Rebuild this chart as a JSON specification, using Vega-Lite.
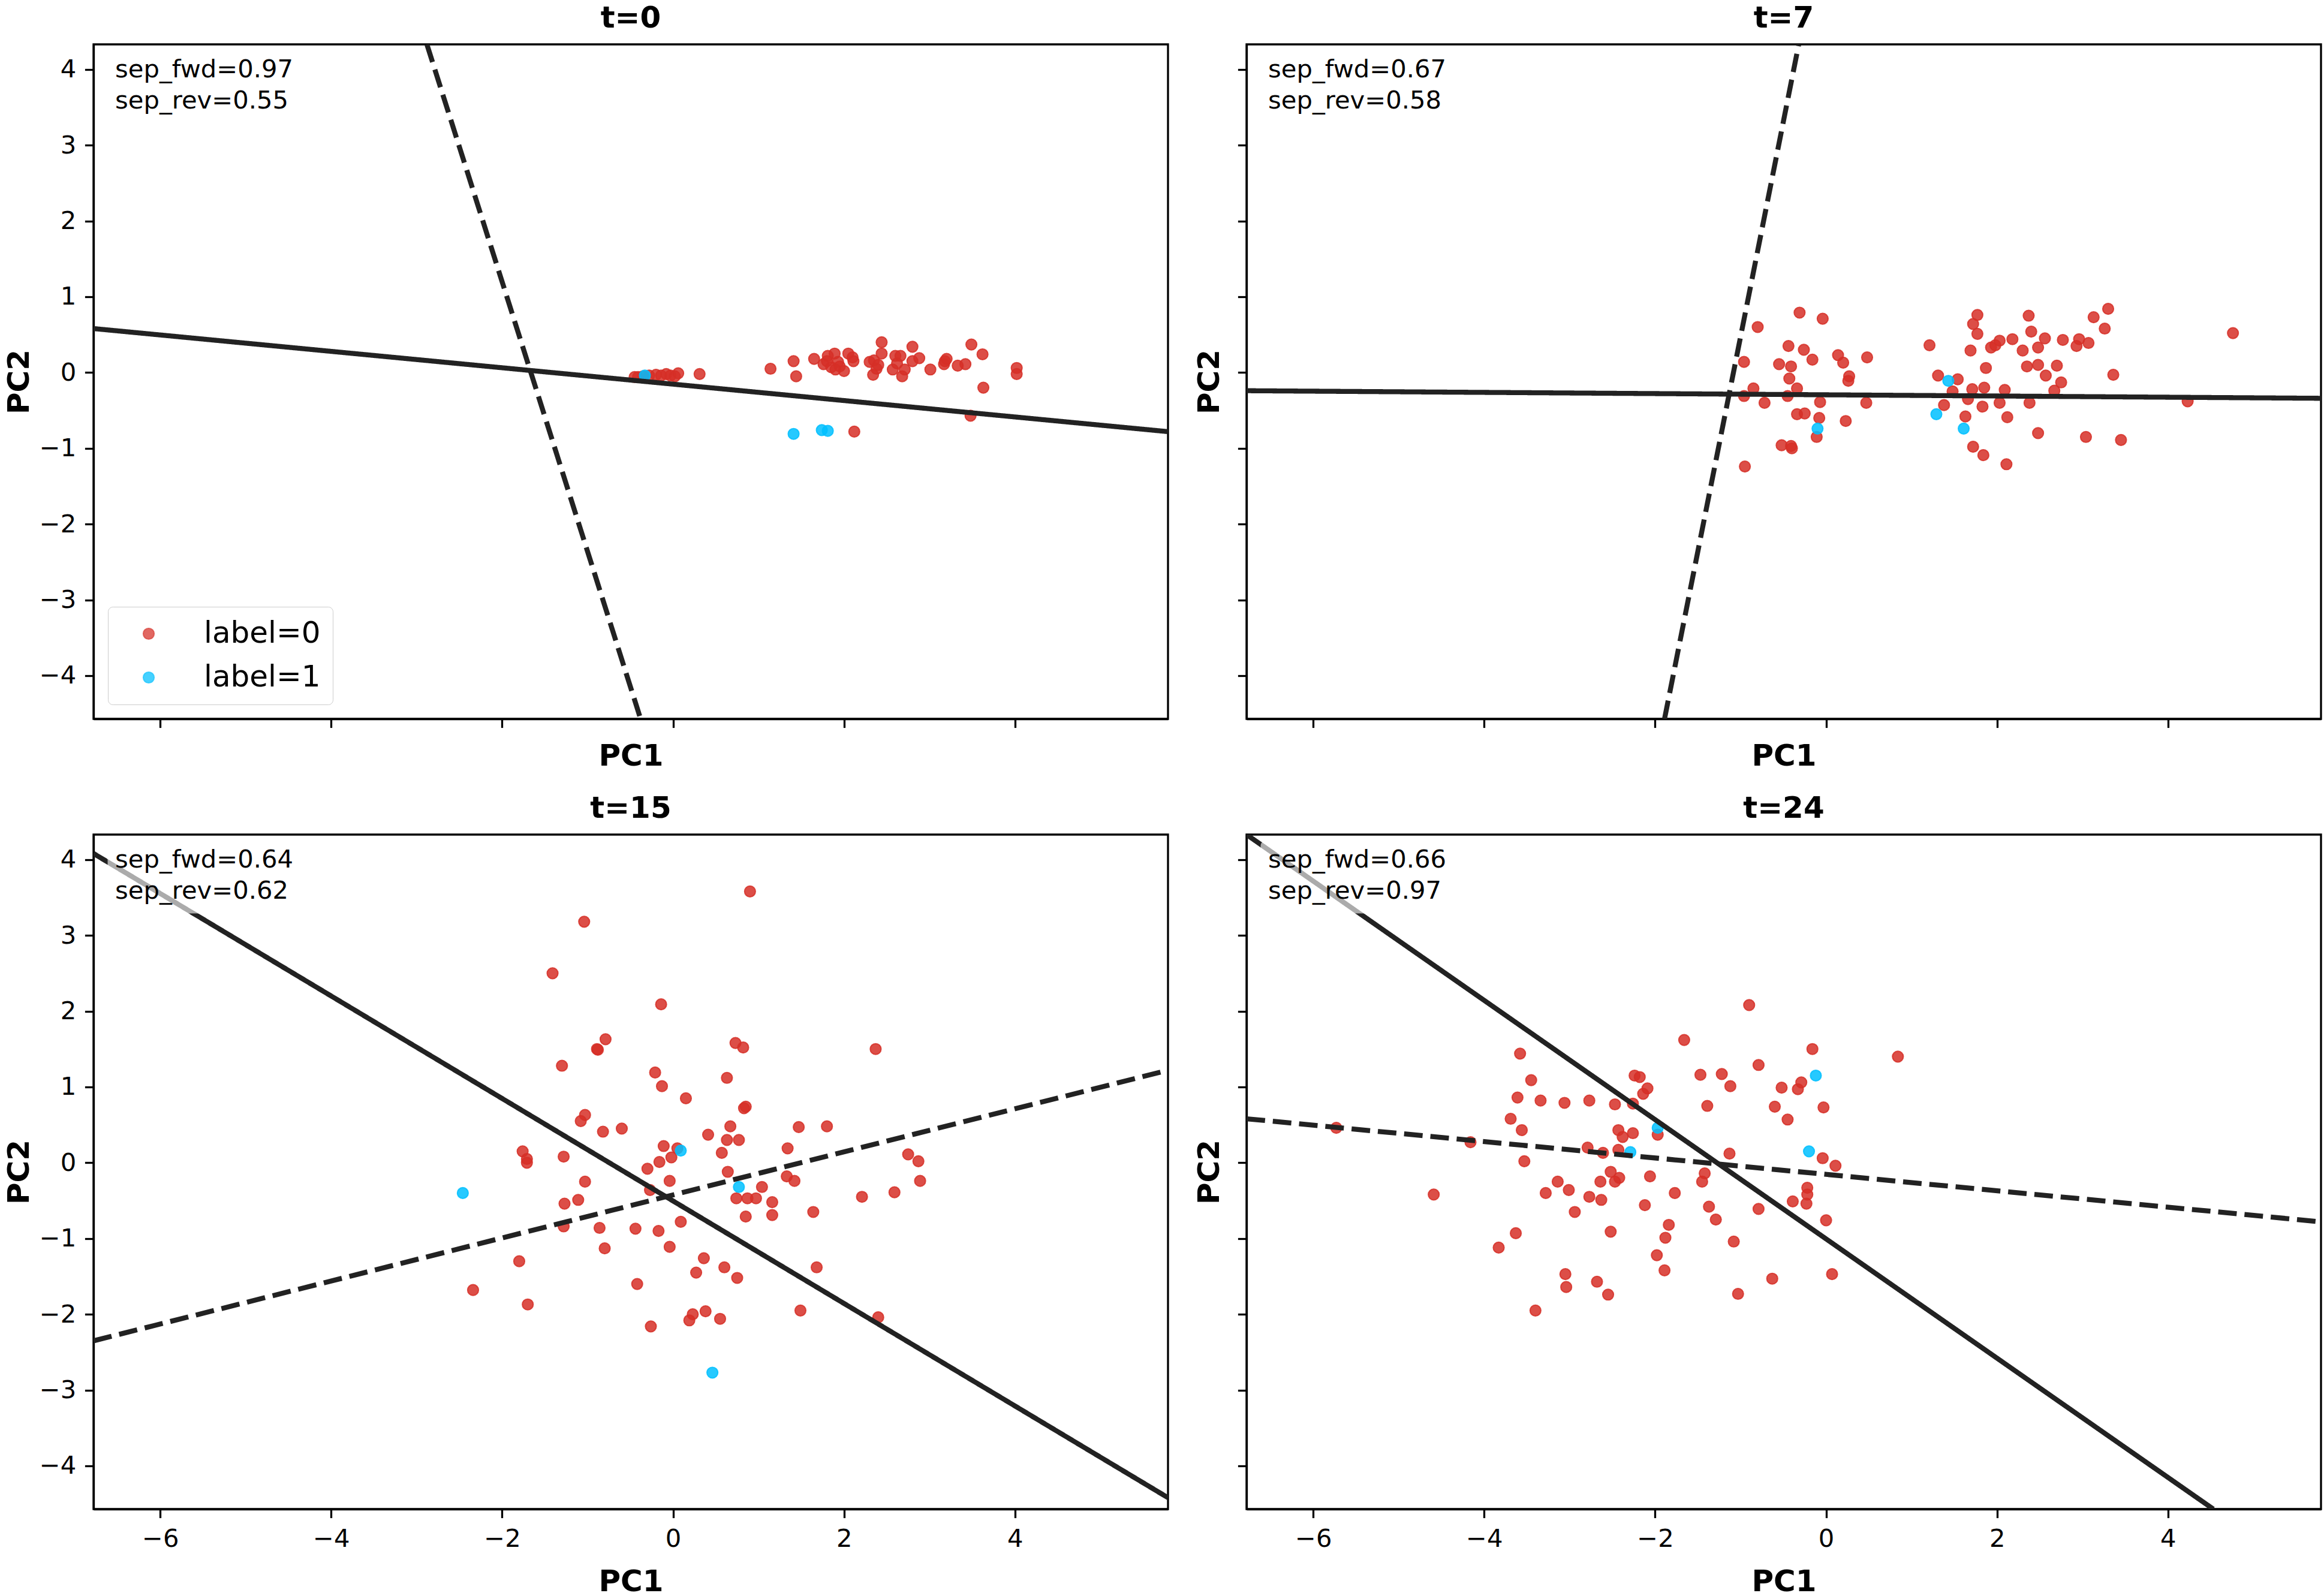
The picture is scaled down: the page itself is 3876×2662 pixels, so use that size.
{
  "$schema": "https://vega.github.io/schema/vega-lite/v6.json",
  "background": "white",
  "padding": {"left": 5, "top": 4, "right": 2, "bottom": 2},
  "bounds": "flush",
  "columns": 2,
  "spacing": {"row": 193, "column": 131},
  "resolve": {"scale": {"color": "independent", "stroke": "independent"}, "legend": {"color": "independent", "stroke": "independent"}},
  "config": {
    "font": "DejaVu Sans",
    "view": {"stroke": "black", "strokeWidth": 3.3},
    "axis": {
      "grid": false,
      "domainColor": "black", "domainWidth": 3.3,
      "tickColor": "black", "tickWidth": 3.3, "tickSize": 14.6,
      "labelFont": "DejaVu Sans", "labelFontSize": 41.7, "labelColor": "black", "labelPadding": 14.6,
      "titleFont": "DejaVu Sans", "titleFontSize": 50, "titleFontWeight": "bold", "titleColor": "black",
      "format": "d", "labelFlush": false, "labelOverlap": false
    },
    "circle": {"size": 330, "fillOpacity": 0.85, "strokeOpacity": 0.85, "strokeWidth": 2},
    "title": {"font": "DejaVu Sans", "fontSize": 50, "fontWeight": "bold", "color": "black", "offset": 18, "baseline": "alphabetic", "frame": "group", "anchor": "middle"}
  },
  "datasets": {
    "pts_t0": [
      {"label":0,"x":-0.45,"y":-0.06},{"label":0,"x":-0.41,"y":-0.06},{"label":0,"x":-0.35,"y":-0.05},{"label":0,"x":-0.28,"y":-0.04},{"label":0,"x":-0.20,"y":-0.03},{"label":0,"x":-0.14,"y":-0.04},{"label":0,"x":-0.08,"y":-0.02},{"label":0,"x":-0.03,"y":-0.04},{"label":0,"x":0.02,"y":-0.05},{"label":0,"x":0.06,"y":-0.01},{"label":0,"x":0.31,"y":-0.02},
      {"label":0,"x":1.14,"y":0.05},{"label":0,"x":1.41,"y":0.15},{"label":0,"x":1.44,"y":-0.05},{"label":0,"x":1.65,"y":0.18},{"label":0,"x":1.76,"y":0.11},{"label":0,"x":1.80,"y":0.15},{"label":0,"x":1.81,"y":0.22},{"label":0,"x":1.89,"y":0.25},{"label":0,"x":1.85,"y":0.07},{"label":0,"x":1.93,"y":0.14},{"label":0,"x":1.90,"y":0.04},{"label":0,"x":1.95,"y":0.08},{"label":0,"x":2.00,"y":0.02},{"label":0,"x":2.05,"y":0.25},{"label":0,"x":2.10,"y":0.20},{"label":0,"x":2.11,"y":0.15},{"label":0,"x":2.30,"y":0.14},{"label":0,"x":2.35,"y":0.16},{"label":0,"x":2.38,"y":0.05},{"label":0,"x":2.40,"y":0.10},{"label":0,"x":2.34,"y":-0.03},{"label":0,"x":2.44,"y":0.40},{"label":0,"x":2.44,"y":0.25},{"label":0,"x":2.57,"y":0.04},{"label":0,"x":2.60,"y":0.22},{"label":0,"x":2.62,"y":0.12},{"label":0,"x":2.66,"y":0.22},{"label":0,"x":2.68,"y":-0.05},{"label":0,"x":2.71,"y":0.04},{"label":0,"x":2.80,"y":0.34},{"label":0,"x":2.80,"y":0.15},{"label":0,"x":2.88,"y":0.19},{"label":0,"x":3.01,"y":0.04},{"label":0,"x":3.17,"y":0.11},{"label":0,"x":3.18,"y":0.15},{"label":0,"x":3.20,"y":0.18},{"label":0,"x":3.33,"y":0.09},{"label":0,"x":3.42,"y":0.11},{"label":0,"x":3.49,"y":0.37},{"label":0,"x":3.62,"y":0.24},{"label":0,"x":3.63,"y":-0.20},{"label":0,"x":3.48,"y":-0.57},{"label":0,"x":4.02,"y":0.06},{"label":0,"x":4.02,"y":-0.02},{"label":0,"x":2.12,"y":-0.78},
      {"label":1,"x":-0.33,"y":-0.04},{"label":1,"x":1.41,"y":-0.81},{"label":1,"x":1.74,"y":-0.76},{"label":1,"x":1.81,"y":-0.77}
    ],
    "pts_t7": [
      {"label":0,"x":-0.31,"y":0.79},{"label":0,"x":-0.04,"y":0.71},{"label":0,"x":-0.80,"y":0.60},{"label":0,"x":-0.44,"y":0.35},{"label":0,"x":-0.26,"y":0.30},{"label":0,"x":-0.96,"y":0.14},{"label":0,"x":-0.55,"y":0.11},{"label":0,"x":-0.41,"y":0.08},{"label":0,"x":-0.16,"y":0.17},{"label":0,"x":0.14,"y":0.23},{"label":0,"x":0.20,"y":0.13},{"label":0,"x":0.48,"y":0.20},{"label":0,"x":0.27,"y":-0.05},{"label":0,"x":0.26,"y":-0.11},{"label":0,"x":-0.43,"y":-0.08},{"label":0,"x":-0.85,"y":-0.21},{"label":0,"x":-0.34,"y":-0.21},{"label":0,"x":-0.96,"y":-0.31},{"label":0,"x":-0.45,"y":-0.31},{"label":0,"x":-0.72,"y":-0.40},{"label":0,"x":-0.07,"y":-0.39},{"label":0,"x":0.47,"y":-0.40},{"label":0,"x":-0.34,"y":-0.55},{"label":0,"x":-0.25,"y":-0.54},{"label":0,"x":-0.08,"y":-0.60},{"label":0,"x":0.23,"y":-0.64},{"label":0,"x":-0.11,"y":-0.85},{"label":0,"x":-0.52,"y":-0.96},{"label":0,"x":-0.40,"y":-1.00},{"label":0,"x":-0.41,"y":-0.97},{"label":0,"x":-0.95,"y":-1.24},
      {"label":0,"x":1.21,"y":0.36},{"label":0,"x":1.77,"y":0.76},{"label":0,"x":1.72,"y":0.64},{"label":0,"x":1.77,"y":0.51},{"label":0,"x":1.69,"y":0.29},{"label":0,"x":1.93,"y":0.33},{"label":0,"x":1.98,"y":0.36},{"label":0,"x":2.03,"y":0.42},{"label":0,"x":2.18,"y":0.44},{"label":0,"x":2.37,"y":0.75},{"label":0,"x":2.40,"y":0.54},{"label":0,"x":2.30,"y":0.29},{"label":0,"x":2.48,"y":0.33},{"label":0,"x":2.56,"y":0.45},{"label":0,"x":2.77,"y":0.43},{"label":0,"x":2.96,"y":0.44},{"label":0,"x":2.93,"y":0.35},{"label":0,"x":3.07,"y":0.39},{"label":0,"x":3.13,"y":0.73},{"label":0,"x":3.30,"y":0.84},{"label":0,"x":3.26,"y":0.58},{"label":0,"x":4.76,"y":0.52},{"label":0,"x":1.87,"y":0.06},{"label":0,"x":2.35,"y":0.08},{"label":0,"x":2.48,"y":0.10},{"label":0,"x":2.70,"y":0.09},{"label":0,"x":2.57,"y":-0.04},{"label":0,"x":2.75,"y":-0.13},{"label":0,"x":2.67,"y":-0.24},{"label":0,"x":3.36,"y":-0.03},{"label":0,"x":1.31,"y":-0.04},{"label":0,"x":1.54,"y":-0.09},{"label":0,"x":1.48,"y":-0.25},{"label":0,"x":1.71,"y":-0.22},{"label":0,"x":1.85,"y":-0.20},{"label":0,"x":2.09,"y":-0.23},{"label":0,"x":1.66,"y":-0.35},{"label":0,"x":1.38,"y":-0.43},{"label":0,"x":1.83,"y":-0.45},{"label":0,"x":2.03,"y":-0.40},{"label":0,"x":2.38,"y":-0.40},{"label":0,"x":1.63,"y":-0.58},{"label":0,"x":2.12,"y":-0.59},{"label":0,"x":2.48,"y":-0.80},{"label":0,"x":3.04,"y":-0.85},{"label":0,"x":3.45,"y":-0.89},{"label":0,"x":1.72,"y":-0.98},{"label":0,"x":1.84,"y":-1.09},{"label":0,"x":2.11,"y":-1.21},{"label":0,"x":4.23,"y":-0.38},
      {"label":1,"x":-0.10,"y":-0.74},{"label":1,"x":1.43,"y":-0.11},{"label":1,"x":1.29,"y":-0.55},{"label":1,"x":1.61,"y":-0.74}
    ],
    "pts_t15": [
      {"label":0,"x":0.90,"y":3.58},{"label":0,"x":-1.04,"y":3.18},{"label":0,"x":-1.41,"y":2.50},{"label":0,"x":-0.14,"y":2.09},{"label":0,"x":-0.79,"y":1.63},{"label":0,"x":-0.88,"y":1.49},{"label":0,"x":-0.89,"y":1.50},{"label":0,"x":-1.30,"y":1.28},{"label":0,"x":0.73,"y":1.58},{"label":0,"x":0.82,"y":1.52},{"label":0,"x":2.37,"y":1.50},{"label":0,"x":-0.21,"y":1.19},{"label":0,"x":0.63,"y":1.12},{"label":0,"x":-0.13,"y":1.01},{"label":0,"x":0.15,"y":0.85},{"label":0,"x":0.85,"y":0.74},{"label":0,"x":0.83,"y":0.72},{"label":0,"x":-1.03,"y":0.63},{"label":0,"x":-1.08,"y":0.55},{"label":0,"x":-0.82,"y":0.41},{"label":0,"x":-0.60,"y":0.45},{"label":0,"x":0.41,"y":0.37},{"label":0,"x":0.67,"y":0.48},{"label":0,"x":1.47,"y":0.47},{"label":0,"x":1.80,"y":0.48},
      {"label":0,"x":0.63,"y":0.30},{"label":0,"x":0.77,"y":0.30},{"label":0,"x":-1.76,"y":0.15},{"label":0,"x":-1.71,"y":0.05},{"label":0,"x":-1.71,"y":0.00},{"label":0,"x":-1.28,"y":0.08},{"label":0,"x":-0.11,"y":0.22},{"label":0,"x":0.05,"y":0.19},{"label":0,"x":-0.02,"y":0.07},{"label":0,"x":-0.16,"y":0.01},{"label":0,"x":-0.30,"y":-0.08},{"label":0,"x":0.57,"y":0.13},{"label":0,"x":1.34,"y":0.19},{"label":0,"x":2.75,"y":0.11},{"label":0,"x":2.87,"y":0.02},{"label":0,"x":2.89,"y":-0.24},{"label":0,"x":2.59,"y":-0.39},{"label":0,"x":2.21,"y":-0.45},{"label":0,"x":1.64,"y":-0.65},{"label":0,"x":1.33,"y":-0.18},{"label":0,"x":1.42,"y":-0.24},{"label":0,"x":0.64,"y":-0.12},{"label":0,"x":1.04,"y":-0.32},{"label":0,"x":0.74,"y":-0.47},{"label":0,"x":0.87,"y":-0.47},{"label":0,"x":0.97,"y":-0.47},{"label":0,"x":1.16,"y":-0.52},{"label":0,"x":1.16,"y":-0.69},{"label":0,"x":0.85,"y":-0.71},{"label":0,"x":-0.04,"y":-0.24},{"label":0,"x":-0.27,"y":-0.36},{"label":0,"x":-1.03,"y":-0.25},{"label":0,"x":-1.11,"y":-0.49},{"label":0,"x":-1.27,"y":-0.54},{"label":0,"x":-1.28,"y":-0.84},{"label":0,"x":-0.86,"y":-0.86},{"label":0,"x":-0.44,"y":-0.87},{"label":0,"x":-0.17,"y":-0.90},{"label":0,"x":0.09,"y":-0.78},{"label":0,"x":-0.80,"y":-1.13},{"label":0,"x":-0.04,"y":-1.11},{"label":0,"x":-1.80,"y":-1.30},{"label":0,"x":-2.34,"y":-1.68},{"label":0,"x":-1.70,"y":-1.87},{"label":0,"x":-0.42,"y":-1.60},{"label":0,"x":0.36,"y":-1.26},{"label":0,"x":0.27,"y":-1.45},{"label":0,"x":0.60,"y":-1.38},{"label":0,"x":0.75,"y":-1.52},{"label":0,"x":1.68,"y":-1.38},{"label":0,"x":-0.26,"y":-2.16},{"label":0,"x":0.23,"y":-2.00},{"label":0,"x":0.19,"y":-2.08},{"label":0,"x":0.38,"y":-1.96},{"label":0,"x":0.55,"y":-2.06},{"label":0,"x":1.49,"y":-1.95},{"label":0,"x":2.40,"y":-2.04},
      {"label":1,"x":0.09,"y":0.16},{"label":1,"x":0.77,"y":-0.32},{"label":1,"x":-2.46,"y":-0.40},{"label":1,"x":0.46,"y":-2.77}
    ],
    "pts_t24": [
      {"label":0,"x":-0.90,"y":2.08},{"label":0,"x":-1.66,"y":1.62},{"label":0,"x":-0.16,"y":1.50},{"label":0,"x":0.84,"y":1.40},{"label":0,"x":-3.58,"y":1.44},{"label":0,"x":-3.45,"y":1.09},{"label":0,"x":-0.79,"y":1.29},{"label":0,"x":-1.47,"y":1.16},{"label":0,"x":-1.22,"y":1.17},{"label":0,"x":-2.24,"y":1.15},{"label":0,"x":-2.18,"y":1.13},{"label":0,"x":-1.12,"y":1.01},{"label":0,"x":-0.29,"y":1.06},{"label":0,"x":-0.33,"y":0.97},{"label":0,"x":-0.52,"y":0.99},{"label":0,"x":-2.09,"y":0.98},{"label":0,"x":-2.14,"y":0.91},{"label":0,"x":-3.61,"y":0.86},{"label":0,"x":-3.34,"y":0.82},{"label":0,"x":-3.06,"y":0.79},{"label":0,"x":-2.77,"y":0.82},{"label":0,"x":-2.47,"y":0.77},{"label":0,"x":-2.26,"y":0.78},{"label":0,"x":-1.39,"y":0.75},{"label":0,"x":-0.60,"y":0.74},{"label":0,"x":-0.03,"y":0.73},{"label":0,"x":-0.45,"y":0.57},{"label":0,"x":-3.69,"y":0.58},{"label":0,"x":-3.56,"y":0.43},{"label":0,"x":-2.43,"y":0.43},{"label":0,"x":-2.26,"y":0.39},{"label":0,"x":-2.38,"y":0.34},{"label":0,"x":-1.97,"y":0.37},{"label":0,"x":-5.73,"y":0.46},{"label":0,"x":-4.16,"y":0.27},{"label":0,"x":-2.79,"y":0.20},{"label":0,"x":-2.61,"y":0.13},{"label":0,"x":-2.43,"y":0.17},{"label":0,"x":-1.13,"y":0.12},{"label":0,"x":-0.04,"y":0.06},{"label":0,"x":0.11,"y":-0.04},{"label":0,"x":-3.53,"y":0.02},{"label":0,"x":-1.42,"y":-0.14},{"label":0,"x":-1.45,"y":-0.25},{"label":0,"x":-2.52,"y":-0.12},{"label":0,"x":-2.42,"y":-0.20},{"label":0,"x":-2.47,"y":-0.25},{"label":0,"x":-2.64,"y":-0.25},{"label":0,"x":-2.06,"y":-0.18},{"label":0,"x":-3.14,"y":-0.25},{"label":0,"x":-3.28,"y":-0.40},{"label":0,"x":-3.01,"y":-0.36},{"label":0,"x":-2.77,"y":-0.45},{"label":0,"x":-2.63,"y":-0.49},{"label":0,"x":-1.77,"y":-0.40},{"label":0,"x":-4.59,"y":-0.42},{"label":0,"x":-2.12,"y":-0.56},{"label":0,"x":-1.37,"y":-0.58},{"label":0,"x":-0.79,"y":-0.61},{"label":0,"x":-0.39,"y":-0.51},{"label":0,"x":-0.22,"y":-0.33},{"label":0,"x":-0.22,"y":-0.42},{"label":0,"x":-0.23,"y":-0.54},{"label":0,"x":-2.94,"y":-0.65},{"label":0,"x":-1.29,"y":-0.75},{"label":0,"x":0.00,"y":-0.76},{"label":0,"x":-1.84,"y":-0.82},{"label":0,"x":-2.52,"y":-0.91},{"label":0,"x":-1.88,"y":-0.99},{"label":0,"x":-3.63,"y":-0.93},{"label":0,"x":-3.83,"y":-1.12},{"label":0,"x":-1.08,"y":-1.04},{"label":0,"x":-1.98,"y":-1.22},{"label":0,"x":-1.89,"y":-1.42},{"label":0,"x":-3.05,"y":-1.47},{"label":0,"x":-3.04,"y":-1.64},{"label":0,"x":-2.68,"y":-1.57},{"label":0,"x":-2.55,"y":-1.74},{"label":0,"x":-3.40,"y":-1.95},{"label":0,"x":-0.63,"y":-1.53},{"label":0,"x":-1.03,"y":-1.73},{"label":0,"x":0.07,"y":-1.47},
      {"label":1,"x":-0.12,"y":1.15},{"label":1,"x":-1.97,"y":0.46},{"label":1,"x":-2.29,"y":0.14},{"label":1,"x":-0.20,"y":0.15}
    ],
    "lines": [
      {"panel":"t=0","kind":"solid","x":-6.78,"y":0.58},{"panel":"t=0","kind":"solid","x":5.79,"y":-0.78},
      {"panel":"t=0","kind":"dashed","x":-2.88,"y":4.33},{"panel":"t=0","kind":"dashed","x":-0.38,"y":-4.57},
      {"panel":"t=7","kind":"solid","x":-6.78,"y":-0.24},{"panel":"t=7","kind":"solid","x":5.79,"y":-0.34},
      {"panel":"t=7","kind":"dashed","x":-0.32,"y":4.33},{"panel":"t=7","kind":"dashed","x":-1.89,"y":-4.57},
      {"panel":"t=15","kind":"solid","x":-6.78,"y":4.08},{"panel":"t=15","kind":"solid","x":5.79,"y":-4.42},
      {"panel":"t=15","kind":"dashed","x":-6.78,"y":-2.35},{"panel":"t=15","kind":"dashed","x":5.79,"y":1.22},
      {"panel":"t=24","kind":"solid","x":-6.78,"y":4.33},{"panel":"t=24","kind":"solid","x":4.53,"y":-4.57},
      {"panel":"t=24","kind":"dashed","x":-6.78,"y":0.58},{"panel":"t=24","kind":"dashed","x":5.79,"y":-0.78}
    ],
    "notes": [
      {"panel":"t=0","note":["sep_fwd=0.97","sep_rev=0.55"]},
      {"panel":"t=7","note":["sep_fwd=0.67","sep_rev=0.58"]},
      {"panel":"t=15","note":["sep_fwd=0.64","sep_rev=0.62"]},
      {"panel":"t=24","note":["sep_fwd=0.66","sep_rev=0.97"]}
    ]
  },
  "concat": [
    {
      "width": 1792, "height": 1125,
      "title": "t=0",
      "layer": [
        {"data": {"name": "pts_t0"},
         "mark": {"type": "circle"},
         "encoding": {
           "x": {"field": "x", "type": "quantitative", "scale": {"domain": [-6.78, 5.79], "nice": false, "zero": false}, "axis": {"title": "PC1", "values": [-6,-4,-2,0,2,4], "labels": false, "titlePadding": 21}},
           "y": {"field": "y", "type": "quantitative", "scale": {"domain": [-4.57, 4.33], "nice": false, "zero": false}, "axis": {"title": "PC2", "values": [-4,-3,-2,-1,0,1,2,3,4], "titlePadding": 8}},
           "color": {"field": "label", "type": "nominal", "scale": {"domain": [0, 1], "range": ["#d62f27", "#00bfff"]},
             "legend": {"orient": "bottom-left", "offset": 24, "title": null, "fillColor": "white", "strokeColor": "#cccccc", "cornerRadius": 8, "padding": 20, "symbolType": "circle", "symbolSize": 330, "symbolOpacity": 0.85, "symbolStrokeWidth": 0, "symbolOffset": 23, "labelOffset": 67, "labelFontSize": 50, "labelFont": "DejaVu Sans", "labelColor": "black", "labelLimit": 600, "rowPadding": 23, "labelExpr": "'label=' + datum.label"}},
           "stroke": {"field": "label", "type": "nominal", "scale": {"domain": [0, 1], "range": ["#d62f27", "#00bfff"]}, "legend": null}
         }},
        {"data": {"name": "lines"}, "transform": [{"filter": "datum.panel === 't=0'"}],
         "mark": {"type": "line", "clip": true, "color": "#222222", "strokeWidth": 8.3},
         "encoding": {
           "x": {"field": "x", "type": "quantitative", "scale": {"domain": [-6.78, 5.79], "nice": false, "zero": false}, "axis": {"title": "PC1", "values": [-6,-4,-2,0,2,4], "labels": false, "titlePadding": 21}},
           "y": {"field": "y", "type": "quantitative", "scale": {"domain": [-4.57, 4.33], "nice": false, "zero": false}, "axis": {"title": "PC2", "values": [-4,-3,-2,-1,0,1,2,3,4], "titlePadding": 8}},
           "strokeDash": {"field": "kind", "type": "nominal", "scale": {"domain": ["solid", "dashed"], "range": [[1, 0], [31, 13]]}, "legend": null}
         }},
        {"data": {"name": "notes"}, "transform": [{"filter": "datum.panel === 't=0'"}],
         "mark": {"type": "rect", "color": "white", "opacity": 0.62, "cornerRadius": 8},
         "encoding": {
           "x": {"datum": -6.615, "type": "quantitative"}, "x2": {"datum": -4.187},
           "y": {"datum": 4.247, "type": "quantitative"}, "y2": {"datum": 3.29}
         }},
        {"data": {"name": "notes"}, "transform": [{"filter": "datum.panel === 't=0'"}],
         "mark": {"type": "text", "align": "left", "baseline": "top", "font": "DejaVu Sans", "fontSize": 41.7, "lineHeight": 52, "color": "black"},
         "encoding": {
           "x": {"datum": -6.527, "type": "quantitative"},
           "y": {"datum": 4.155, "type": "quantitative"},
           "text": {"field": "note", "type": "nominal"}
         }}
      ]
    },
    {
      "width": 1792, "height": 1125,
      "title": "t=7",
      "layer": [
        {"data": {"name": "pts_t7"},
         "mark": {"type": "circle"},
         "encoding": {
           "x": {"field": "x", "type": "quantitative", "scale": {"domain": [-6.78, 5.79], "nice": false, "zero": false}, "axis": {"title": "PC1", "values": [-6,-4,-2,0,2,4], "labels": false, "titlePadding": 21}},
           "y": {"field": "y", "type": "quantitative", "scale": {"domain": [-4.57, 4.33], "nice": false, "zero": false}, "axis": {"title": "PC2", "values": [-4,-3,-2,-1,0,1,2,3,4], "labels": false, "titlePadding": 20}},
           "color": {"field": "label", "type": "nominal", "scale": {"domain": [0, 1], "range": ["#d62f27", "#00bfff"]}, "legend": null},
           "stroke": {"field": "label", "type": "nominal", "scale": {"domain": [0, 1], "range": ["#d62f27", "#00bfff"]}, "legend": null}
         }},
        {"data": {"name": "lines"}, "transform": [{"filter": "datum.panel === 't=7'"}],
         "mark": {"type": "line", "clip": true, "color": "#222222", "strokeWidth": 8.3},
         "encoding": {
           "x": {"field": "x", "type": "quantitative", "scale": {"domain": [-6.78, 5.79], "nice": false, "zero": false}, "axis": {"title": "PC1", "values": [-6,-4,-2,0,2,4], "labels": false, "titlePadding": 21}},
           "y": {"field": "y", "type": "quantitative", "scale": {"domain": [-4.57, 4.33], "nice": false, "zero": false}, "axis": {"title": "PC2", "values": [-4,-3,-2,-1,0,1,2,3,4], "labels": false, "titlePadding": 20}},
           "strokeDash": {"field": "kind", "type": "nominal", "scale": {"domain": ["solid", "dashed"], "range": [[1, 0], [31, 13]]}, "legend": null}
         }},
        {"data": {"name": "notes"}, "transform": [{"filter": "datum.panel === 't=7'"}],
         "mark": {"type": "rect", "color": "white", "opacity": 0.62, "cornerRadius": 8},
         "encoding": {
           "x": {"datum": -6.615, "type": "quantitative"}, "x2": {"datum": -4.187},
           "y": {"datum": 4.247, "type": "quantitative"}, "y2": {"datum": 3.29}
         }},
        {"data": {"name": "notes"}, "transform": [{"filter": "datum.panel === 't=7'"}],
         "mark": {"type": "text", "align": "left", "baseline": "top", "font": "DejaVu Sans", "fontSize": 41.7, "lineHeight": 52, "color": "black"},
         "encoding": {
           "x": {"datum": -6.527, "type": "quantitative"},
           "y": {"datum": 4.155, "type": "quantitative"},
           "text": {"field": "note", "type": "nominal"}
         }}
      ]
    },
    {
      "width": 1792, "height": 1125,
      "title": "t=15",
      "layer": [
        {"data": {"name": "pts_t15"},
         "mark": {"type": "circle"},
         "encoding": {
           "x": {"field": "x", "type": "quantitative", "scale": {"domain": [-6.78, 5.79], "nice": false, "zero": false}, "axis": {"title": "PC1", "values": [-6,-4,-2,0,2,4], "titlePadding": 26}},
           "y": {"field": "y", "type": "quantitative", "scale": {"domain": [-4.57, 4.33], "nice": false, "zero": false}, "axis": {"title": "PC2", "values": [-4,-3,-2,-1,0,1,2,3,4], "titlePadding": 8}},
           "color": {"field": "label", "type": "nominal", "scale": {"domain": [0, 1], "range": ["#d62f27", "#00bfff"]}, "legend": null},
           "stroke": {"field": "label", "type": "nominal", "scale": {"domain": [0, 1], "range": ["#d62f27", "#00bfff"]}, "legend": null}
         }},
        {"data": {"name": "lines"}, "transform": [{"filter": "datum.panel === 't=15'"}],
         "mark": {"type": "line", "clip": true, "color": "#222222", "strokeWidth": 8.3},
         "encoding": {
           "x": {"field": "x", "type": "quantitative", "scale": {"domain": [-6.78, 5.79], "nice": false, "zero": false}, "axis": {"title": "PC1", "values": [-6,-4,-2,0,2,4], "titlePadding": 26}},
           "y": {"field": "y", "type": "quantitative", "scale": {"domain": [-4.57, 4.33], "nice": false, "zero": false}, "axis": {"title": "PC2", "values": [-4,-3,-2,-1,0,1,2,3,4], "titlePadding": 8}},
           "strokeDash": {"field": "kind", "type": "nominal", "scale": {"domain": ["solid", "dashed"], "range": [[1, 0], [31, 13]]}, "legend": null}
         }},
        {"data": {"name": "notes"}, "transform": [{"filter": "datum.panel === 't=15'"}],
         "mark": {"type": "rect", "color": "white", "opacity": 0.62, "cornerRadius": 8},
         "encoding": {
           "x": {"datum": -6.615, "type": "quantitative"}, "x2": {"datum": -4.187},
           "y": {"datum": 4.247, "type": "quantitative"}, "y2": {"datum": 3.29}
         }},
        {"data": {"name": "notes"}, "transform": [{"filter": "datum.panel === 't=15'"}],
         "mark": {"type": "text", "align": "left", "baseline": "top", "font": "DejaVu Sans", "fontSize": 41.7, "lineHeight": 52, "color": "black"},
         "encoding": {
           "x": {"datum": -6.527, "type": "quantitative"},
           "y": {"datum": 4.155, "type": "quantitative"},
           "text": {"field": "note", "type": "nominal"}
         }}
      ]
    },
    {
      "width": 1792, "height": 1125,
      "title": "t=24",
      "layer": [
        {"data": {"name": "pts_t24"},
         "mark": {"type": "circle"},
         "encoding": {
           "x": {"field": "x", "type": "quantitative", "scale": {"domain": [-6.78, 5.79], "nice": false, "zero": false}, "axis": {"title": "PC1", "values": [-6,-4,-2,0,2,4], "titlePadding": 26}},
           "y": {"field": "y", "type": "quantitative", "scale": {"domain": [-4.57, 4.33], "nice": false, "zero": false}, "axis": {"title": "PC2", "values": [-4,-3,-2,-1,0,1,2,3,4], "labels": false, "titlePadding": 20}},
           "color": {"field": "label", "type": "nominal", "scale": {"domain": [0, 1], "range": ["#d62f27", "#00bfff"]}, "legend": null},
           "stroke": {"field": "label", "type": "nominal", "scale": {"domain": [0, 1], "range": ["#d62f27", "#00bfff"]}, "legend": null}
         }},
        {"data": {"name": "lines"}, "transform": [{"filter": "datum.panel === 't=24'"}],
         "mark": {"type": "line", "clip": true, "color": "#222222", "strokeWidth": 8.3},
         "encoding": {
           "x": {"field": "x", "type": "quantitative", "scale": {"domain": [-6.78, 5.79], "nice": false, "zero": false}, "axis": {"title": "PC1", "values": [-6,-4,-2,0,2,4], "titlePadding": 26}},
           "y": {"field": "y", "type": "quantitative", "scale": {"domain": [-4.57, 4.33], "nice": false, "zero": false}, "axis": {"title": "PC2", "values": [-4,-3,-2,-1,0,1,2,3,4], "labels": false, "titlePadding": 20}},
           "strokeDash": {"field": "kind", "type": "nominal", "scale": {"domain": ["solid", "dashed"], "range": [[1, 0], [31, 13]]}, "legend": null}
         }},
        {"data": {"name": "notes"}, "transform": [{"filter": "datum.panel === 't=24'"}],
         "mark": {"type": "rect", "color": "white", "opacity": 0.62, "cornerRadius": 8},
         "encoding": {
           "x": {"datum": -6.615, "type": "quantitative"}, "x2": {"datum": -4.187},
           "y": {"datum": 4.247, "type": "quantitative"}, "y2": {"datum": 3.29}
         }},
        {"data": {"name": "notes"}, "transform": [{"filter": "datum.panel === 't=24'"}],
         "mark": {"type": "text", "align": "left", "baseline": "top", "font": "DejaVu Sans", "fontSize": 41.7, "lineHeight": 52, "color": "black"},
         "encoding": {
           "x": {"datum": -6.527, "type": "quantitative"},
           "y": {"datum": 4.155, "type": "quantitative"},
           "text": {"field": "note", "type": "nominal"}
         }}
      ]
    }
  ]
}
